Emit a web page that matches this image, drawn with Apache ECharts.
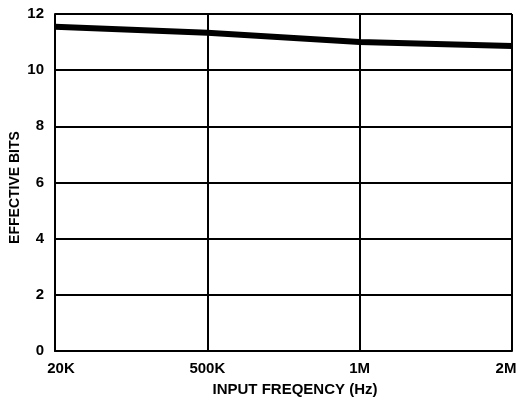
<!DOCTYPE html>
<html>
<head>
<meta charset="utf-8">
<script src="https://cdn.jsdelivr.net/npm/echarts@6/dist/echarts.min.js"></script>
<style>html,body{margin:0;padding:0;background:#fff}#c{width:523px;height:398px}</style>
</head>
<body>
<div id="c"></div>
<script>
var categories = ['20K', '500K', '1M', '2M'];
var effectiveBits = [11.55, 11.33, 11.0, 10.86];
var yMin = 0, yMax = 12, yStep = 2;
var xTitle = 'INPUT FREQENCY (Hz)';
var yTitle = 'EFFECTIVE BITS';

var FONT = '"Liberation Sans", Arial, Helvetica, sans-serif';
var labelBase = {fontFamily: FONT, fontWeight: 'bold', fontSize: 15, color: '#000'};
var chart = echarts.init(document.getElementById('c'), null, {renderer: 'canvas'});
chart.setOption({
  animation: false,
  backgroundColor: '#fff',
  grid: {left: 55, right: 11, top: 14, bottom: 47, containLabel: false, outerBoundsMode: 'none'},
  xAxis: {
    type: 'category',
    data: categories,
    boundaryGap: false,
    name: xTitle,
    nameLocation: 'middle',
    nameGap: 31,
    nameMoveOverlap: false,
    nameTextStyle: Object.assign({}, labelBase, {padding: [0, 0, 0, 23]}),
    axisLine: {show: true, lineStyle: {color: '#000', width: 2}},
    axisTick: {show: false},
    axisLabel: {
      margin: 10,
      fontFamily: FONT, fontWeight: 'bold', fontSize: 15, color: '#000',
      formatter: function (v, i) {
        if (i === 0) return '{l|' + v + '}';
        if (i === categories.length - 1) return '{r|' + v + '}';
        return v;
      },
      rich: {
        l: Object.assign({}, labelBase, {padding: [0, 0, 0, 12]}),
        r: Object.assign({}, labelBase, {padding: [0, 12, 0, 0]})
      }
    },
    splitLine: {show: true, lineStyle: {color: '#000', width: 2}}
  },
  yAxis: {
    type: 'value',
    min: yMin, max: yMax, interval: yStep,
    name: yTitle,
    nameLocation: 'middle',
    nameGap: 33,
    nameMoveOverlap: false,
    nameTextStyle: Object.assign({}, labelBase, {fontSize: 14, padding: [0, 10, 0, 0]}),
    axisLine: {show: true, lineStyle: {color: '#000', width: 2}},
    axisTick: {show: false},
    axisLabel: {margin: 11, fontFamily: FONT, fontWeight: 'bold', fontSize: 15, color: '#000'},
    splitLine: {show: true, lineStyle: {color: '#000', width: 2}}
  },
  series: [{
    type: 'line',
    data: effectiveBits,
    symbol: 'none',
    lineStyle: {color: '#000', width: 6, cap: 'butt', join: 'round'}
  }]
});
</script>
</body>
</html>
